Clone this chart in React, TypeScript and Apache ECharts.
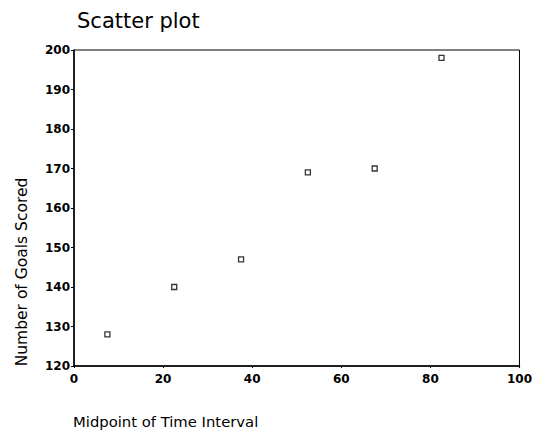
import React, { useEffect, useRef } from "react";
import * as echarts from "echarts";

const xValues = [7.5, 22.5, 37.5, 52.5, 67.5, 82.5];
const yValues = [128, 140, 147, 169, 170, 198];
const chartTitle = "Scatter plot";
const xTitle = "Midpoint of Time Interval";
const yTitle = "Number of Goals Scored";

export default function App() {
  const ref = useRef<HTMLDivElement>(null);
  useEffect(() => {
    if (!ref.current) return;
    const chart = echarts.init(ref.current, null, { renderer: "svg" });
    const font = "'DejaVu Sans', sans-serif";
    chart.setOption({
      animation: false,
      backgroundColor: "#fff",
      title: {
        text: chartTitle,
        left: 72,
        top: 5,
        textStyle: { fontFamily: font, fontSize: 21, fontWeight: "normal", color: "#000" },
      },
      grid: {
        left: 74,
        right: 9,
        top: 50,
        bottom: 66,
        show: true,
        borderColor: "#000",
        borderWidth: 1,
        containLabel: false,
      },
      xAxis: {
        type: "value",
        min: 0,
        max: 100,
        interval: 20,
        splitLine: { show: false },
        axisLine: { lineStyle: { color: "#000", width: 1.5 } },
        axisTick: { show: true, length: 2, lineStyle: { color: "#000" } },
        axisLabel: { color: "#000", fontFamily: font, fontSize: 12, fontWeight: "bold", margin: 7 },
      },
      yAxis: {
        type: "value",
        min: 120,
        max: 200,
        interval: 10,
        splitLine: { show: false },
        axisLine: { lineStyle: { color: "#000", width: 1.5 } },
        axisTick: { show: true, length: 3, lineStyle: { color: "#000" } },
        axisLabel: { color: "#000", fontFamily: font, fontSize: 12, fontWeight: "bold", margin: 4 },
      },
      graphic: [
        {
          type: "text",
          x: 22,
          y: 272,
          rotation: Math.PI / 2,
          style: {
            text: yTitle,
            fill: "#000",
            font: `15.5px ${font}`,
            textAlign: "center",
            textVerticalAlign: "middle",
          },
        },
        {
          type: "text",
          x: 73,
          y: 421,
          style: {
            text: xTitle,
            fill: "#000",
            font: `14.8px ${font}`,
            textAlign: "left",
            textVerticalAlign: "middle",
          },
        },
      ],
      series: [
        {
          type: "scatter",
          data: xValues.map((x, i) => [x, yValues[i]]),
          symbol: "rect",
          symbolSize: 5,
          itemStyle: { color: "#fff", borderColor: "#000", borderWidth: 1.3 },
        },
      ],
    });
    return () => chart.dispose();
  }, []);
  return <div ref={ref} style={{ position: "fixed", left: 0, top: 0, width: 535, height: 432 }} />;
}
